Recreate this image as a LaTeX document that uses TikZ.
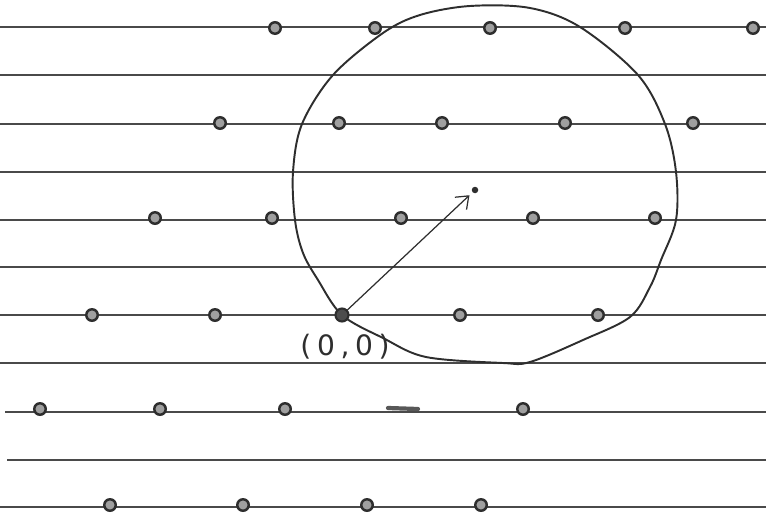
\documentclass[tikz,border=0pt]{standalone}
\usepackage{fontspec}
\usepackage{tikz}
\usetikzlibrary{arrows.meta}
\newfontfamily\handfont[LetterSpace=20]{DejaVu Sans}
\definecolor{pencil}{HTML}{2E2E2E}
\definecolor{ruling}{HTML}{4A4A4A}
\tikzset{
  ruleline/.style={draw=ruling,line width=1pt},
  latdot/.style={circle,draw=pencil,fill=gray!75,line width=1.4pt,minimum size=2.3mm,inner sep=0pt},
  origdot/.style={circle,draw=pencil,fill=pencil!85,line width=1.2pt,minimum size=2.6mm,inner sep=0pt},
  tipdot/.style={circle,fill=pencil,minimum size=1.3mm,inner sep=0pt},
  vecarrow/.style={-{Straight Barb[length=2.2mm,width=3.4mm]},draw=pencil,line width=0.7pt,shorten >=0.8mm},
  hoop/.style={draw=pencil,line width=1.1pt},
  handlabel/.style={font=\handfont\fontsize{16}{18}\selectfont,text=pencil,inner sep=0pt}
}

\begin{document}
\begin{tikzpicture}[x=0.02cm,y=-0.02cm]
\useasboundingbox (0,0) rectangle (766,517);
% ruled lines
\foreach \yy in {27,75,124,172,220,267,315,363}{\draw[ruleline] (0,\yy) -- (766,\yy);}
\draw[ruleline] (5,412) -- (766,412);
\draw[ruleline] (7,460) -- (766,460);
\draw[ruleline] (0,507) -- (766,507);
% the circle
\draw[hoop] plot[smooth cycle,tension=0.55] coordinates {
  (470,6) (530,8) (580,27) (638,75) (665,124) (676,172) (676,220) (661,260)
  (650,287) (630,317) (583,340) (530,362) (503,363) (426,357) (383,338)
  (342,315) (318,280) (303,253) (295,220) (293,172) (302,124) (333,75)
  (383,33) (420,15)};
% lattice points
\foreach \yy/\xlist in {28/{275,375,490,625,753},
                        123/{220,339,442,565,693},
                        218/{155,272,401,533,655},
                        315/{92,215,460,598},
                        409/{40,160,285,523},
                        505/{110,243,367,481}}{
  \foreach \xx in \xlist {\node[latdot] (d-\xx-\yy) at (\xx,\yy) {};}
}
\draw[pencil!80,line width=2.4pt,line cap=round] (388,408) -- (418,409);
% vector from the origin
\node[origdot] (o) at (342,315) {};
\node[tipdot] (p) at (475,190) {};
\draw[vecarrow] (o) -- (p);
\node[handlabel] (lbl) at (345,347) {(0,0)};
\end{tikzpicture}
\end{document}
